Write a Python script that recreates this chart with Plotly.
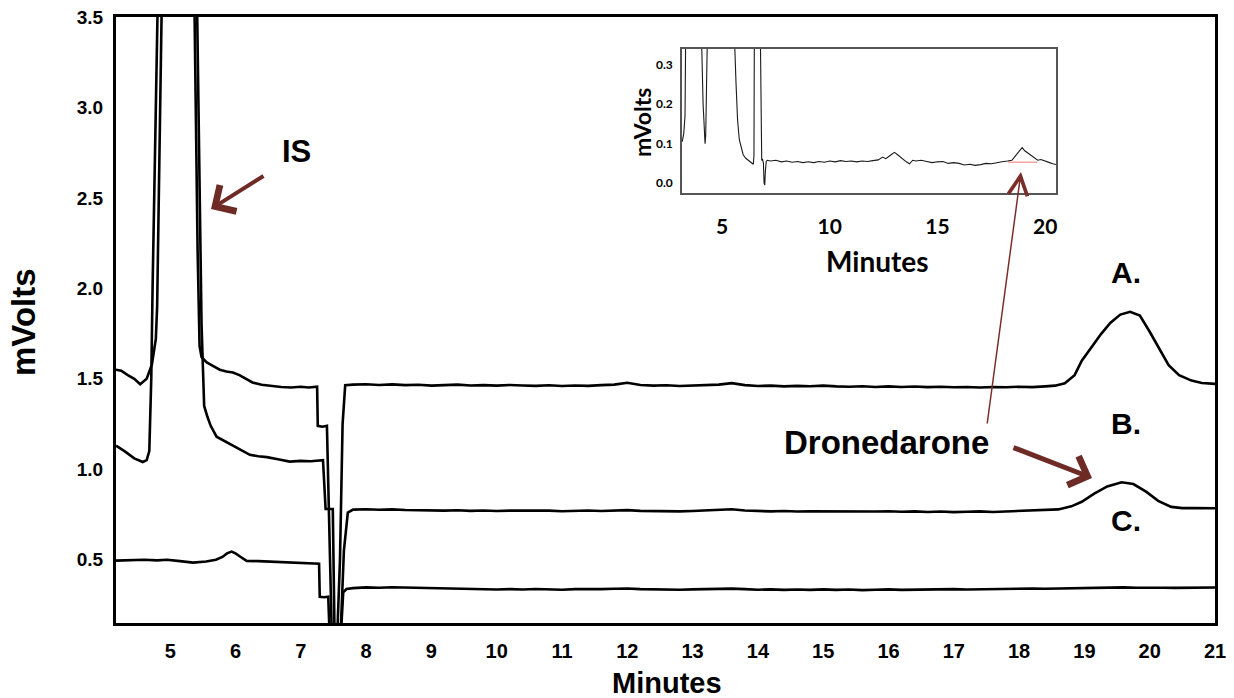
import plotly.graph_objects as go

# ---------------- data ----------------
# Trace A (top chromatogram)
a_minutes = [4.17, 4.25, 4.35, 4.45, 4.54, 4.64, 4.72, 4.78, 4.80, 4.83, 4.86, 5.10, 5.34, 5.37, 5.42, 5.45, 5.48,
             5.56, 5.66, 5.76, 5.86, 5.96, 6.06, 6.16, 6.26, 6.4, 6.55, 6.7, 6.85, 7.0, 7.12, 7.25,
             7.26, 7.33, 7.40, 7.44, 7.48, 7.55, 7.60, 7.64, 7.68,
             7.8, 8.0, 8.2, 8.4, 8.6, 8.8, 9.0, 9.2, 9.4, 9.6, 9.8, 10.0, 10.2, 10.4, 10.6, 10.8, 11.0, 11.2,
             11.4, 11.6, 11.8, 12.0, 12.2, 12.4, 12.6, 12.8, 13.0, 13.2, 13.4, 13.6, 13.8, 14.0, 14.2, 14.4,
             14.6, 14.8, 15.0, 15.2, 15.4, 15.6, 15.8, 16.0, 16.2, 16.4, 16.6, 16.8, 17.0, 17.2, 17.4, 17.6,
             17.8, 18.0, 18.2, 18.4,
             18.55, 18.7, 18.85, 18.96, 19.1, 19.26, 19.4, 19.55, 19.7, 19.85, 20.0, 20.15, 20.29, 20.45,
             20.64, 20.8, 21.0]
a_mvolts = [1.55, 1.545, 1.52, 1.50, 1.47, 1.50, 1.58, 1.72, 1.90, 3.6, 5.0, 9.0, 5.0, 3.6, 2.2, 1.68, 1.62,
            1.59, 1.57, 1.55, 1.54, 1.535, 1.52, 1.50, 1.48, 1.467, 1.46, 1.455, 1.452, 1.456, 1.452, 1.456,
            1.24, 1.235, 1.24, 0.60, 0.0, 0.0, 0.5, 1.25, 1.465,
            1.468, 1.470, 1.466, 1.469, 1.465, 1.467, 1.462, 1.465, 1.468, 1.463, 1.465, 1.462, 1.466, 1.463,
            1.461, 1.464, 1.460, 1.463, 1.461, 1.465, 1.468, 1.478, 1.466, 1.462, 1.464, 1.460, 1.462, 1.465,
            1.468, 1.476, 1.465, 1.460, 1.462, 1.458, 1.461, 1.459, 1.462, 1.458, 1.456, 1.459, 1.455, 1.458,
            1.455, 1.457, 1.454, 1.456, 1.453, 1.455, 1.452, 1.455, 1.453, 1.456, 1.454, 1.458,
            1.462, 1.475, 1.52, 1.60, 1.67, 1.75, 1.81, 1.855, 1.87, 1.85, 1.76, 1.66, 1.575, 1.52,
            1.49, 1.477, 1.472]

# Trace B (middle chromatogram)
b_minutes = [4.17, 4.3, 4.45, 4.58, 4.64, 4.68, 4.71, 4.73, 4.81, 4.84, 5.10, 5.38, 5.41, 5.48, 5.52,
             5.57, 5.62, 5.71, 5.81, 5.96, 6.1, 6.22, 6.35, 6.48, 6.65, 6.83, 7.0, 7.15, 7.34,
             7.38, 7.45, 7.49, 7.52, 7.60, 7.66, 7.72,
             7.8, 8.0, 8.2, 8.4, 8.6, 8.8, 9.0, 9.2, 9.4, 9.6, 9.8, 10.0, 10.2, 10.4, 10.6, 10.8, 11.0, 11.2,
             11.4, 11.6, 11.8, 12.0, 12.2, 12.4, 12.6, 12.8, 13.0, 13.2, 13.4, 13.6, 13.8, 14.0, 14.2, 14.4,
             14.6, 14.8, 15.0, 15.2, 15.4, 15.6, 15.8, 16.0, 16.2, 16.4, 16.6, 16.8, 17.0, 17.2, 17.4, 17.6,
             17.8, 18.0, 18.2, 18.4,
             18.6, 18.8, 18.96, 19.15, 19.35, 19.57, 19.75, 19.95, 20.13, 20.33, 20.5, 20.7, 21.0]
b_mvolts = [1.13, 1.10, 1.06, 1.04, 1.05, 1.10, 1.5, 2.0, 3.6, 5.0, 9.0, 5.0, 3.6, 1.8, 1.35,
            1.29, 1.24, 1.18, 1.16, 1.13, 1.105, 1.08, 1.072, 1.067, 1.055, 1.042, 1.046, 1.044, 1.05,
            0.78, 0.78, 0.78, 0.0, 0.0, 0.55, 0.76,
            0.777, 0.779, 0.776, 0.778, 0.775, 0.773, 0.774, 0.771, 0.773, 0.770, 0.772, 0.769, 0.771, 0.772,
            0.769, 0.771, 0.768, 0.770, 0.772, 0.769, 0.771, 0.774, 0.770, 0.768, 0.770, 0.767, 0.769, 0.771,
            0.774, 0.779, 0.772, 0.769, 0.767, 0.769, 0.766, 0.768, 0.767, 0.765, 0.767, 0.764, 0.766, 0.768,
            0.765, 0.767, 0.764, 0.766, 0.763, 0.765, 0.767, 0.764, 0.766, 0.768, 0.770, 0.772,
            0.778, 0.795, 0.82, 0.865, 0.905, 0.928, 0.918, 0.875, 0.825, 0.792, 0.785, 0.786, 0.784]

# Trace C (bottom chromatogram)
c_minutes = [4.17, 4.4, 4.6, 4.8, 4.95, 5.15, 5.35, 5.55, 5.7, 5.8, 5.87, 5.94, 6.0, 6.08, 6.17, 6.35,
             6.55, 6.75, 6.95, 7.1, 7.28, 7.29, 7.36, 7.42, 7.45, 7.60, 7.65, 7.70,
             7.8, 8.0, 8.2, 8.4, 8.6, 8.8, 9.0, 9.2, 9.4, 9.6, 9.8, 10.0, 10.2, 10.4, 10.6, 10.8, 11.0, 11.2,
             11.4, 11.6, 11.8, 12.0, 12.2, 12.4, 12.6, 12.8, 13.0, 13.2, 13.4, 13.6, 13.8, 14.0, 14.2, 14.4,
             14.6, 14.8, 15.0, 15.2, 15.4, 15.6, 15.8, 16.0, 16.2, 16.4, 16.6, 16.8, 17.0, 17.2, 17.4, 17.6,
             17.8, 18.0, 18.2, 18.4, 18.6, 18.8, 19.0, 19.2, 19.4, 19.6, 19.8, 20.0, 20.2, 20.4, 20.6, 20.8,
             21.0]
c_mvolts = [0.495, 0.497, 0.50, 0.496, 0.50, 0.492, 0.484, 0.49, 0.50, 0.515, 0.535, 0.545, 0.535, 0.515,
            0.493, 0.492, 0.489, 0.487, 0.484, 0.482, 0.478, 0.295, 0.292, 0.295, 0.0, 0.0, 0.32, 0.338,
            0.343, 0.347, 0.345, 0.348, 0.346, 0.344, 0.345, 0.342, 0.338, 0.336, 0.338, 0.335, 0.337, 0.335,
            0.338, 0.336, 0.334, 0.337, 0.335, 0.337, 0.339, 0.341, 0.337, 0.335, 0.337, 0.334, 0.336, 0.338,
            0.336, 0.340, 0.337, 0.334, 0.336, 0.333, 0.335, 0.333, 0.336, 0.333, 0.335, 0.332, 0.334, 0.336,
            0.333, 0.335, 0.333, 0.335, 0.337, 0.335, 0.337, 0.339, 0.337, 0.339, 0.341, 0.339, 0.341, 0.343,
            0.341, 0.343, 0.345, 0.347, 0.345, 0.343, 0.345, 0.344, 0.346, 0.345, 0.346]

# Inset chromatogram (zoomed baseline)
inset_minutes = [3.15, 3.22, 3.28, 3.33, 3.38, 3.7, 4.0, 4.05, 4.12, 4.18, 4.21, 4.24, 4.28, 4.32, 4.45,
                 5.0, 5.50, 5.58, 5.65, 5.72, 5.80, 5.90, 5.98, 6.1, 6.2, 6.3, 6.4, 6.45, 6.48, 6.5, 6.65,
                 6.78, 6.81, 6.84, 6.88, 6.92, 6.95, 6.98, 7.01, 7.05, 7.1,
                 7.25, 7.5, 7.75, 8.0, 8.25, 8.5, 8.75, 9.0, 9.25, 9.5, 9.75, 10.0, 10.25, 10.5, 10.75, 11.0,
                 11.25, 11.5, 11.75, 12.0, 12.25, 12.45, 12.6, 12.8, 13.0, 13.15, 13.35, 13.55, 13.7, 13.85,
                 14.0, 14.25, 14.5, 14.75, 15.0, 15.25, 15.5, 15.75, 16.0, 16.25, 16.5, 16.75, 17.0, 17.25,
                 17.5, 17.75, 18.0, 18.25, 18.45, 18.6, 18.8, 18.93, 19.05, 19.2, 19.35, 19.5, 19.65, 19.8,
                 20.0, 20.2, 20.35, 20.5]
inset_mvolts = [0.105, 0.125, 0.17, 0.34, 0.6, 3.0, 0.6, 0.36, 0.2, 0.11, 0.10, 0.12, 0.22, 0.38, 0.9,
                3.0, 0.8, 0.36, 0.25, 0.16, 0.11, 0.085, 0.072, 0.063, 0.058, 0.053, 0.05, 0.048, 0.07, 0.36, 3.0,
                0.36, 0.07, 0.058, 0.06, 0.05, 0.0, -0.005, 0.03, 0.055, 0.058,
                0.056, 0.058, 0.054, 0.056, 0.053, 0.055, 0.052, 0.054, 0.052, 0.055, 0.053, 0.056, 0.054, 0.057,
                0.055, 0.056, 0.054, 0.056, 0.055, 0.057, 0.059, 0.066, 0.062, 0.07, 0.078, 0.072, 0.062, 0.054,
                0.049, 0.058, 0.056, 0.058, 0.055, 0.052, 0.054, 0.055, 0.05, 0.052, 0.05, 0.046, 0.048, 0.045,
                0.047, 0.05, 0.049, 0.052, 0.054, 0.056, 0.058, 0.068, 0.08, 0.09, 0.082, 0.076, 0.068, 0.062,
                0.058, 0.06, 0.055, 0.052, 0.049, 0.047]

# Integration baseline under the dronedarone peak in the inset
baseline_minutes = [18.28, 19.63]
baseline_mvolts = [0.053, 0.053]

main_xticks = [5, 6, 7, 8, 9, 10, 11, 12, 13, 14, 15, 16, 17, 18, 19, 20, 21]
main_yticks = [0.5, 1.0, 1.5, 2.0, 2.5, 3.0, 3.5]
inset_xticks = [5, 10, 15, 20]
inset_yticks = [0.0, 0.1, 0.2, 0.3]

# ---------------- figure ----------------
W, H = 1234, 698
MAIN_FONT = "Liberation Sans"
INSET_FONT = "Lato"
BROWN = "#6e2b25"


def fx(px):
    return px / W


def fy(py):
    return 1 - py / H


fig = go.Figure()
for xs, ys in [(a_minutes, a_mvolts), (b_minutes, b_mvolts), (c_minutes, c_mvolts)]:
    fig.add_trace(go.Scatter(x=xs, y=ys, mode="lines", line=dict(color="black", width=2.6),
                             xaxis="x", yaxis="y", hoverinfo="skip"))

fig.add_trace(go.Scatter(x=baseline_minutes, y=baseline_mvolts, mode="lines",
                         line=dict(color="#f4a3a3", width=1.5), xaxis="x2", yaxis="y2", hoverinfo="skip"))
fig.add_trace(go.Scatter(x=inset_minutes, y=inset_mvolts, mode="lines",
                         line=dict(color="#1a1a1a", width=1.1), xaxis="x2", yaxis="y2", hoverinfo="skip"))

axis_common = dict(showgrid=False, zeroline=False, showline=True, mirror=True, ticks="", automargin=False)

fig.update_layout(
    width=W, height=H, autosize=False,
    margin=dict(l=0, r=0, t=0, b=0, autoexpand=False),
    paper_bgcolor="white", plot_bgcolor="white",
    showlegend=False,
    xaxis=dict(domain=[fx(116), fx(1215)], range=[4.17, 21], tickvals=main_xticks,
               linecolor="black", linewidth=3, ticklabelstandoff=8,
               tickfont=dict(family=MAIN_FONT, size=20, color="black", weight="bold"),
               anchor="y", **axis_common),
    yaxis=dict(domain=[fy(623), fy(17)], range=[0.15, 3.5], tickvals=main_yticks, tickformat=".1f",
               linecolor="black", linewidth=3, ticklabelstandoff=6,
               tickfont=dict(family=MAIN_FONT, size=19, color="black", weight="bold"),
               anchor="x", **axis_common),
    xaxis2=dict(domain=[fx(682), fx(1056)], range=[3.14, 20.5], tickvals=inset_xticks,
                linecolor="#555555", linewidth=1.5, ticklabelstandoff=14,
                tickfont=dict(family=INSET_FONT, size=21, color="black", weight="bold"),
                anchor="y2", **axis_common),
    yaxis2=dict(domain=[fy(193), fy(49)], range=[-0.025, 0.34], tickvals=inset_yticks, tickformat=".1f",
                linecolor="#555555", linewidth=1.5, ticklabelstandoff=5,
                tickfont=dict(family=INSET_FONT, size=12, color="black", weight="bold"),
                anchor="x2", **axis_common),
)


def label(text, cx, cy, size, family=MAIN_FONT, angle=0):
    return dict(text=text, x=fx(cx), y=fy(cy), xref="paper", yref="paper", showarrow=False,
                xanchor="center", yanchor="middle", textangle=angle,
                font=dict(family=family, size=size, color="black", weight="bold"))


def arrow(hx, hy, tx, ty, width, size, head, color=BROWN):
    return dict(text="", x=fx(hx), y=fy(hy), xref="paper", yref="paper", ax=tx - hx, ay=ty - hy,
                showarrow=True, arrowhead=head, arrowsize=size, arrowwidth=width, arrowcolor=color,
                standoff=0, startstandoff=0)


annotations = [
    label("mVolts", 23, 322, 33, angle=-90),
    label("Minutes", 667, 683, 29),
    label("mVolts", 642, 123, 23, family=INSET_FONT, angle=-90),
    label("Minutes", 877, 261, 28, family=INSET_FONT),
    label("IS", 296, 151, 31),
    label("A.", 1126, 272, 30),
    label("B.", 1126, 423, 30),
    label("C.", 1126, 520, 30),
    label("Dronedarone", 886, 443, 33),
    arrow(211, 209, 265, 175, 4, 1.5, 4),
    arrow(1092, 478, 1012, 447, 5, 1.2, 4),
    arrow(1021, 172, 987, 425, 1.5, 2.5, 5, color="#7a2e2a"),
]
fig.update_layout(annotations=annotations)

fig.write_html("out.html")
